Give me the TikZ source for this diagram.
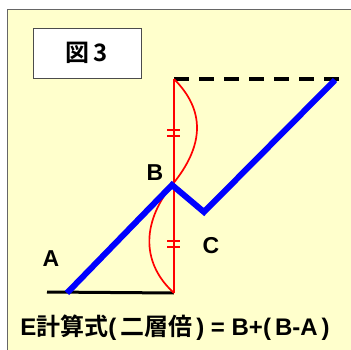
\documentclass[tikz,border=0pt]{standalone}
\usepackage{fontspec}
\setmainfont{Liberation Sans}
\newfontfamily\jpfont{Noto Sans CJK JP}[BoldFont={Noto Sans CJK JP Bold}]
\usepackage{xcolor}
\usepackage{tikz}
\usetikzlibrary{positioning}

\definecolor{paneyellow}{HTML}{FFFFCC}
\definecolor{pathblue}{HTML}{0000FF}
\tikzset{
  lbl/.style={font=\fontsize{23}{23}\selectfont\bfseries},
  tick/.style={red, line width=1.6pt},
}

\begin{document}
\begin{tikzpicture}[x=1pt, y=-1pt]
            \useasboundingbox (0,0) rectangle (351,350);
            \fill[white] (0,0) rectangle (351,350);
            \fill[paneyellow] (7,9.5) rectangle (351,350);
            \draw[gray!80!black, line width=1pt] (7,350) -- (7,9.5) -- (351,9.5);
            % title box
            \node[draw=gray!60!black, fill=white, line width=0.8pt, minimum width=108pt, minimum height=50pt, inner sep=0pt] (title) at (87,53) {\jpfont\fontsize{24}{24}\selectfont\bfseries 図\,3};
            % points
            \coordinate (a) at (67,293);
            \coordinate (b) at (172,185);
            \coordinate (c) at (204,212);
            \coordinate (e) at (335,80);
            \coordinate (top) at (174,79);
            \coordinate (bot) at (174,293);
            % reference lines
            \draw[line width=3pt] (47,292) -- (bot);
            \draw[line width=4pt, dash pattern=on 15pt off 10pt] (top) -- (341,79);
            \draw[red, line width=1.8pt] (top) -- (bot);
            \draw[red, line width=1.7pt] (top) .. controls (205,110) and (205,145) .. (b);
            \draw[red, line width=1.7pt] (b) .. controls (140,225) and (143,265) .. (bot);
            \foreach \y in {130,136,241,247} \draw[tick] (167,\y) -- (180,\y);
            % price path
            \draw[pathblue, line width=6pt] (a) -- (b) -- (c) -- (e);
            % labels
            \node[lbl] (la) at (51,259) {A};
            \node[lbl] (lb) at (155,173) {B};
            \node[lbl] (lc) at (211,246) {C};
            \node[font=\fontsize{24}{24}\selectfont\bfseries] (formula) at (175,328) {E{\jpfont 計算式}(\,{\jpfont 二層倍}\,) = B+(\,B-A\,)};
        \end{tikzpicture}
\end{document}
